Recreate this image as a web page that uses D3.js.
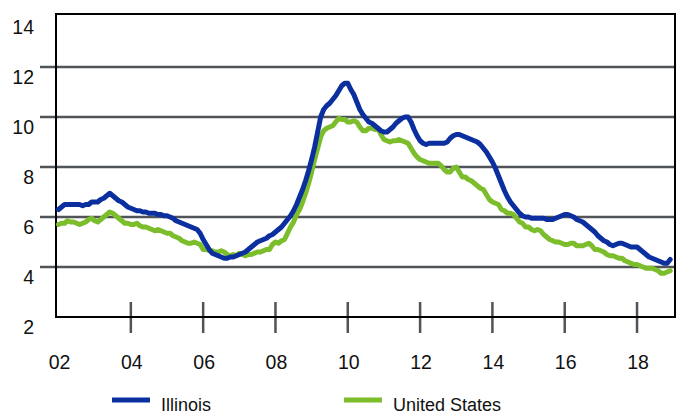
<!DOCTYPE html>
<html>
<head>
<meta charset="utf-8">
<script src="https://cdn.jsdelivr.net/npm/d3@7"></script>
<style>
  body { margin: 0; background: #fff; }
  text { font-family: "Liberation Sans", Arial, sans-serif; fill: #111; }
</style>
</head>
<body>
<script>
// monthly unemployment rate, Jan 2002 - Dec 2018
const startYear = 2002;

const illinois = [
  6.3, 6.4, 6.5, 6.5, 6.5, 6.5, 6.5, 6.5, 6.45, 6.5, 6.5, 6.6,          // 2002
  6.6, 6.6, 6.7, 6.75, 6.85, 6.95, 6.85, 6.75, 6.65, 6.6, 6.5, 6.4,     // 2003
  6.35, 6.3, 6.25, 6.25, 6.2, 6.2, 6.15, 6.15, 6.15, 6.1, 6.1, 6.05,    // 2004
  6.05, 6.0, 5.95, 5.85, 5.8, 5.75, 5.7, 5.65, 5.6, 5.55, 5.5, 5.35,    // 2005
  5.1, 4.9, 4.7, 4.55, 4.5, 4.45, 4.4, 4.35, 4.35, 4.4, 4.4, 4.45,      // 2006
  4.5, 4.55, 4.6, 4.7, 4.8, 4.9, 5.0, 5.05, 5.1, 5.15, 5.25, 5.3,       // 2007
  5.4, 5.5, 5.6, 5.75, 5.9, 6.05, 6.25, 6.5, 6.8, 7.1, 7.45, 7.85,      // 2008
  8.3, 8.8, 9.4, 10.0, 10.3, 10.45, 10.55, 10.7, 10.85, 11.05, 11.25, 11.35, // 2009
  11.35, 11.1, 10.9, 10.6, 10.3, 10.1, 9.95, 9.8, 9.75, 9.65, 9.55, 9.45,    // 2010
  9.4, 9.4, 9.5, 9.6, 9.75, 9.85, 9.95, 10.0, 10.0, 9.8, 9.5, 9.25,     // 2011
  9.05, 8.95, 8.9, 8.95, 8.95, 8.95, 8.95, 8.95, 8.95, 9.0, 9.15, 9.25, // 2012
  9.3, 9.3, 9.25, 9.2, 9.15, 9.1, 9.05, 9.0, 8.9, 8.75, 8.6, 8.4,       // 2013
  8.2, 7.95, 7.65, 7.35, 7.05, 6.8, 6.6, 6.45, 6.3, 6.15, 6.05, 6.0,    // 2014
  6.0, 5.95, 5.95, 5.95, 5.95, 5.95, 5.9, 5.9, 5.9, 5.95, 6.0, 6.05,    // 2015
  6.1, 6.1, 6.05, 6.0, 5.9, 5.85, 5.8, 5.7, 5.6, 5.5, 5.4, 5.25,        // 2016
  5.15, 5.05, 5.0, 4.9, 4.85, 4.9, 4.95, 4.95, 4.9, 4.85, 4.8, 4.8,     // 2017
  4.8, 4.7, 4.6, 4.5, 4.4, 4.35, 4.3, 4.25, 4.2, 4.15, 4.15, 4.3        // 2018
];

const unitedStates = [
  5.7, 5.75, 5.75, 5.85, 5.8, 5.8, 5.75, 5.7, 5.75, 5.8, 5.9, 5.95,     // 2002
  5.85, 5.8, 5.9, 6.0, 6.1, 6.2, 6.15, 6.05, 5.95, 5.85, 5.75, 5.75,    // 2003
  5.7, 5.7, 5.75, 5.65, 5.6, 5.6, 5.55, 5.5, 5.45, 5.5, 5.45, 5.4,      // 2004
  5.35, 5.35, 5.25, 5.2, 5.15, 5.05, 5.0, 4.95, 4.95, 5.0, 4.95, 4.9,   // 2005
  4.7, 4.7, 4.65, 4.65, 4.6, 4.6, 4.65, 4.6, 4.5, 4.45, 4.5, 4.45,      // 2006
  4.55, 4.5, 4.45, 4.5, 4.5, 4.55, 4.6, 4.6, 4.65, 4.7, 4.7, 4.9,       // 2007
  5.0, 4.95, 5.05, 5.1, 5.35, 5.6, 5.8, 6.1, 6.3, 6.6, 6.95, 7.35,      // 2008
  7.8, 8.3, 8.75, 9.2, 9.45, 9.55, 9.6, 9.65, 9.8, 9.95, 9.9, 9.9,      // 2009
  9.8, 9.8, 9.85, 9.8, 9.6, 9.45, 9.45, 9.55, 9.55, 9.5, 9.55, 9.3,     // 2010
  9.1, 9.05, 9.0, 9.05, 9.05, 9.1, 9.05, 9.0, 8.95, 8.75, 8.55, 8.4,    // 2011
  8.3, 8.25, 8.2, 8.15, 8.15, 8.15, 8.15, 8.05, 7.9, 7.8, 7.8, 7.95,    // 2012
  8.0, 7.8, 7.6, 7.6, 7.5, 7.45, 7.35, 7.25, 7.15, 7.1, 6.9, 6.7,       // 2013
  6.6, 6.55, 6.5, 6.3, 6.25, 6.15, 6.15, 6.1, 5.95, 5.8, 5.75, 5.6,     // 2014
  5.6, 5.5, 5.45, 5.5, 5.45, 5.3, 5.2, 5.1, 5.05, 5.0, 5.0, 4.95,       // 2015
  4.9, 4.9, 4.95, 4.95, 4.85, 4.85, 4.85, 4.9, 4.95, 4.85, 4.7, 4.7,    // 2016
  4.65, 4.6, 4.5, 4.45, 4.45, 4.4, 4.35, 4.35, 4.25, 4.2, 4.15, 4.1,    // 2017
  4.1, 4.05, 4.0, 3.95, 3.95, 3.95, 3.9, 3.85, 3.75, 3.75, 3.8, 3.85    // 2018
];

const yTicks = [2, 4, 6, 8, 10, 12, 14];
const xTicks = [2002, 2004, 2006, 2008, 2010, 2012, 2014, 2016, 2018];
const xTickLabels = ['02', '04', '06', '08', '10', '12', '14', '16', '18'];

const seriesNames = ['Illinois', 'United States'];
const seriesColors = ['#0b2f9f', '#7bbd2b'];


const width = 681;
const height = 415;
const plotLeft = 56, plotRight = 675, plotTop = 14, plotBottom = 317;

const svg = d3.select('body').append('svg')
    .attr('width', width)
    .attr('height', height);

const x = d3.scaleLinear()
    .domain([2001.93, 2019.05])
    .range([plotLeft, plotRight]);

const y = d3.scaleLinear()
    .domain([2, 14.12])
    .range([plotBottom, plotTop]);

// gridlines (with the little stub left of the axis)
svg.append('g')
  .selectAll('line')
  .data(yTicks.filter(d => d > 2 && d < 14))
  .join('line')
    .attr('x1', 40)
    .attr('x2', plotRight)
    .attr('y1', d => y(d))
    .attr('y2', d => y(d))
    .attr('stroke', '#505358')
    .attr('stroke-width', 2.5);

// y labels
svg.append('g')
  .selectAll('text')
  .data(yTicks)
  .join('text')
    .attr('x', 34)
    .attr('y', d => y(d) + 17)
    .attr('text-anchor', 'end')
    .attr('font-size', 19.5)
    .text(d => d);

// x ticks crossing the bottom axis
svg.append('g')
  .selectAll('line')
  .data(xTicks.slice(1))
  .join('line')
    .attr('x1', d => x(d))
    .attr('x2', d => x(d))
    .attr('y1', plotBottom - 15)
    .attr('y2', plotBottom + 16)
    .attr('stroke', '#505358')
    .attr('stroke-width', 2.5);

svg.append('g')
  .selectAll('text')
  .data(xTicks)
  .join('text')
    .attr('x', d => x(d) + 1)
    .attr('y', 369)
    .attr('text-anchor', 'middle')
    .attr('font-size', 19.5)
    .text((d, i) => xTickLabels[i]);

// frame
svg.append('rect')
    .attr('x', plotLeft)
    .attr('y', plotTop)
    .attr('width', plotRight - plotLeft)
    .attr('height', plotBottom - plotTop)
    .attr('fill', 'none')
    .attr('stroke', '#000')
    .attr('stroke-width', 2);

const line = d3.line()
    .x((d, i) => x(startYear + i / 12))
    .y(d => y(d));

const series = [illinois, unitedStates];

// US first so Illinois sits on top
[1, 0].forEach(k => {
  svg.append('path')
      .datum(series[k])
      .attr('d', line)
      .attr('fill', 'none')
      .attr('stroke', seriesColors[k])
      .attr('stroke-width', 5)
      .attr('stroke-linejoin', 'round')
      .attr('stroke-linecap', 'round');
});

// legend
const legendX = [112, 344];
const legend = svg.append('g')
  .selectAll('g')
  .data(seriesNames)
  .join('g')
    .attr('transform', (d, i) => `translate(${legendX[i]}, 400)`);

legend.append('line')
    .attr('x1', 0)
    .attr('x2', 38)
    .attr('stroke', (d, i) => seriesColors[i])
    .attr('stroke-width', 5);

legend.append('text')
    .attr('x', 49)
    .attr('y', 11)
    .attr('font-size', 18)
    .text(d => d);
</script>
</body>
</html>
